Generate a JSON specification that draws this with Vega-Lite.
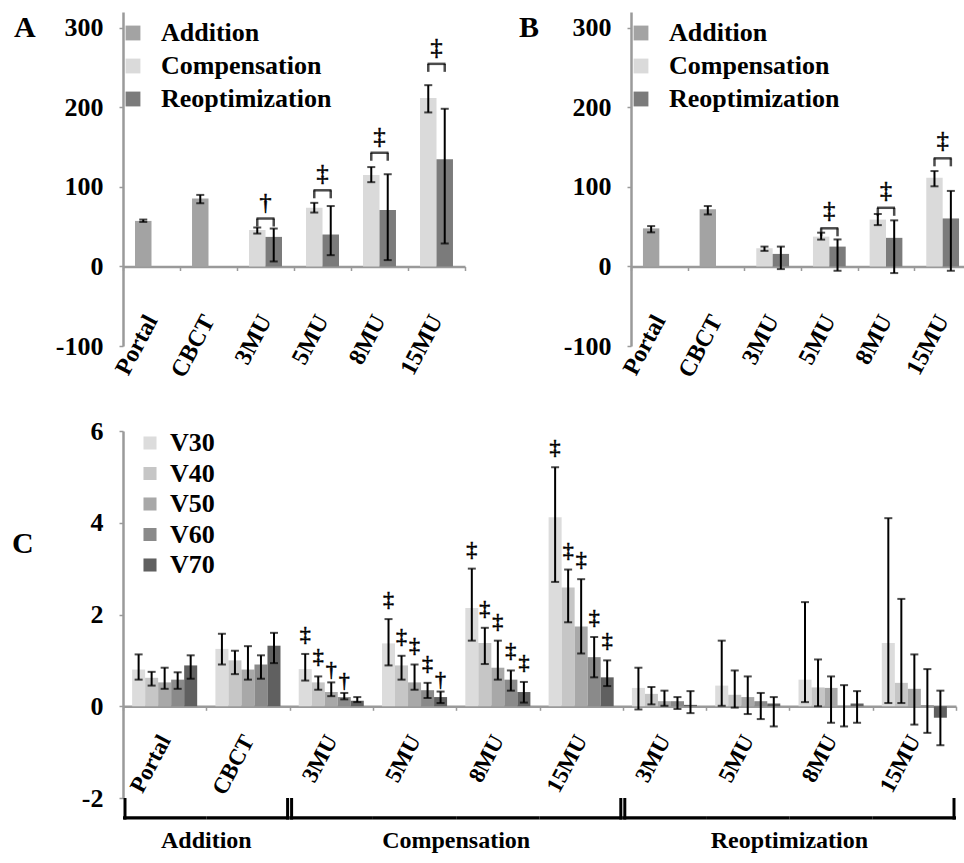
{
"$schema": "https://vega.github.io/schema/vega-lite/v6.json",
"padding": {"left": 12, "top": 12, "right": 0, "bottom": 0},
"spacing": 36,
"resolve": {"scale": {"color": "independent", "x": "independent", "y": "independent", "xOffset": "independent"}, "legend": {"color": "independent"}},
"config": {
  "font": "Liberation Serif",
  "view": {"stroke": null},
  "axis": {"grid": false, "labelColor": "black", "titleColor": "black", "domainColor": "#9a9a9a", "domainWidth": 2.5, "tickColor": "#9a9a9a", "tickWidth": 1.5},
  "legend": {"title": null, "orient": "none", "symbolType": "square", "symbolStrokeWidth": 0, "labelFontWeight": "bold", "labelFontSize": 26, "labelLimit": 400, "padding": 0},
  "title": {"fontWeight": "bold", "fontSize": 30, "anchor": "start", "frame": "group", "baseline": "bottom"}
},
"datasets": {
  "dose": [
    {"cat": "Portal", "method": "Addition", "v": 57.3, "lo": 56, "hi": 59},
    {"cat": "CBCT", "method": "Addition", "v": 85.4, "lo": 79.5, "hi": 90},
    {"cat": "3MU", "method": "Compensation", "v": 46, "lo": 41.4, "hi": 49},
    {"cat": "3MU", "method": "Reoptimization", "v": 37.2, "lo": 6.3, "hi": 47.7},
    {"cat": "5MU", "method": "Compensation", "v": 74, "lo": 67.8, "hi": 80},
    {"cat": "5MU", "method": "Reoptimization", "v": 40.2, "lo": 14.2, "hi": 76},
    {"cat": "8MU", "method": "Compensation", "v": 115, "lo": 106, "hi": 125},
    {"cat": "8MU", "method": "Reoptimization", "v": 71, "lo": 8, "hi": 116},
    {"cat": "15MU", "method": "Compensation", "v": 211.7, "lo": 193.7, "hi": 228},
    {"cat": "15MU", "method": "Reoptimization", "v": 134.7, "lo": 28.9, "hi": 198.3}
  ],
  "doseSig": [
    {"cat": "3MU", "b": 60.3, "sym": "†"},
    {"cat": "5MU", "b": 95.8, "sym": "‡"},
    {"cat": "8MU", "b": 143, "sym": "‡"},
    {"cat": "15MU", "b": 254.8, "sym": "‡"}
  ],
  "eud": [
    {"cat": "Portal", "method": "Addition", "v": 47.9, "lo": 42.9, "hi": 50.8},
    {"cat": "CBCT", "method": "Addition", "v": 72, "lo": 65.4, "hi": 76},
    {"cat": "3MU", "method": "Compensation", "v": 23, "lo": 19.6, "hi": 25},
    {"cat": "3MU", "method": "Reoptimization", "v": 15.8, "lo": -3.3, "hi": 25},
    {"cat": "5MU", "method": "Compensation", "v": 37.5, "lo": 33.8, "hi": 42.5},
    {"cat": "5MU", "method": "Reoptimization", "v": 25, "lo": -5.4, "hi": 34},
    {"cat": "8MU", "method": "Compensation", "v": 59, "lo": 52, "hi": 66},
    {"cat": "8MU", "method": "Reoptimization", "v": 36, "lo": -8.3, "hi": 58},
    {"cat": "15MU", "method": "Compensation", "v": 111.7, "lo": 100.8, "hi": 120},
    {"cat": "15MU", "method": "Reoptimization", "v": 60.4, "lo": -5.4, "hi": 95}
  ],
  "eudSig": [
    {"cat": "5MU", "b": 48, "sym": "‡"},
    {"cat": "8MU", "b": 73.8, "sym": "‡"},
    {"cat": "15MU", "b": 136, "sym": "‡"}
  ],
  "vx": [
    {"key": "A:Portal", "s": "V30", "v": 0.80, "lo": 0.58, "hi": 1.13},
    {"key": "A:Portal", "s": "V40", "v": 0.62, "lo": 0.45, "hi": 0.75},
    {"key": "A:Portal", "s": "V50", "v": 0.52, "lo": 0.38, "hi": 0.84},
    {"key": "A:Portal", "s": "V60", "v": 0.58, "lo": 0.38, "hi": 0.74},
    {"key": "A:Portal", "s": "V70", "v": 0.89, "lo": 0.60, "hi": 1.11},
    {"key": "A:CBCT", "s": "V30", "v": 1.25, "lo": 0.91, "hi": 1.58},
    {"key": "A:CBCT", "s": "V40", "v": 1.00, "lo": 0.70, "hi": 1.21},
    {"key": "A:CBCT", "s": "V50", "v": 0.80, "lo": 0.58, "hi": 1.31},
    {"key": "A:CBCT", "s": "V60", "v": 0.91, "lo": 0.60, "hi": 1.11},
    {"key": "A:CBCT", "s": "V70", "v": 1.32, "lo": 0.94, "hi": 1.60},
    {"key": "C:3MU", "s": "V30", "v": 0.81, "lo": 0.56, "hi": 1.14, "sym": "‡"},
    {"key": "C:3MU", "s": "V40", "v": 0.52, "lo": 0.36, "hi": 0.65, "sym": "‡"},
    {"key": "C:3MU", "s": "V50", "v": 0.31, "lo": 0.22, "hi": 0.52, "sym": "†"},
    {"key": "C:3MU", "s": "V60", "v": 0.20, "lo": 0.15, "hi": 0.29, "sym": "†"},
    {"key": "C:3MU", "s": "V70", "v": 0.12, "lo": 0.09, "hi": 0.20},
    {"key": "C:5MU", "s": "V30", "v": 1.37, "lo": 0.89, "hi": 1.90, "sym": "‡"},
    {"key": "C:5MU", "s": "V40", "v": 0.89, "lo": 0.58, "hi": 1.10, "sym": "‡"},
    {"key": "C:5MU", "s": "V50", "v": 0.52, "lo": 0.36, "hi": 0.91, "sym": "‡"},
    {"key": "C:5MU", "s": "V60", "v": 0.35, "lo": 0.18, "hi": 0.51, "sym": "‡"},
    {"key": "C:5MU", "s": "V70", "v": 0.20, "lo": 0.07, "hi": 0.32, "sym": "†"},
    {"key": "C:8MU", "s": "V30", "v": 2.14, "lo": 1.43, "hi": 3.00, "sym": "‡"},
    {"key": "C:8MU", "s": "V40", "v": 1.38, "lo": 0.92, "hi": 1.71, "sym": "‡"},
    {"key": "C:8MU", "s": "V50", "v": 0.84, "lo": 0.58, "hi": 1.43, "sym": "‡"},
    {"key": "C:8MU", "s": "V60", "v": 0.58, "lo": 0.34, "hi": 0.78, "sym": "‡"},
    {"key": "C:8MU", "s": "V70", "v": 0.31, "lo": 0.08, "hi": 0.53, "sym": "‡"},
    {"key": "C:15MU", "s": "V30", "v": 4.12, "lo": 2.71, "hi": 5.21, "sym": "‡"},
    {"key": "C:15MU", "s": "V40", "v": 2.59, "lo": 1.83, "hi": 2.98, "sym": "‡"},
    {"key": "C:15MU", "s": "V50", "v": 1.74, "lo": 1.15, "hi": 2.77, "sym": "‡"},
    {"key": "C:15MU", "s": "V60", "v": 1.07, "lo": 0.63, "hi": 1.51, "sym": "‡"},
    {"key": "C:15MU", "s": "V70", "v": 0.63, "lo": 0.44, "hi": 1.00, "sym": "‡"},
    {"key": "R:3MU", "s": "V30", "v": 0.40, "lo": -0.07, "hi": 0.84},
    {"key": "R:3MU", "s": "V40", "v": 0.27, "lo": 0.04, "hi": 0.42},
    {"key": "R:3MU", "s": "V50", "v": 0.11, "lo": 0.01, "hi": 0.34},
    {"key": "R:3MU", "s": "V60", "v": 0.11, "lo": -0.06, "hi": 0.20},
    {"key": "R:3MU", "s": "V70", "v": 0.03, "lo": -0.15, "hi": 0.33},
    {"key": "R:5MU", "s": "V30", "v": 0.45, "lo": 0.01, "hi": 1.43},
    {"key": "R:5MU", "s": "V40", "v": 0.25, "lo": -0.03, "hi": 0.78},
    {"key": "R:5MU", "s": "V50", "v": 0.20, "lo": -0.17, "hi": 0.65},
    {"key": "R:5MU", "s": "V60", "v": 0.11, "lo": -0.28, "hi": 0.29},
    {"key": "R:5MU", "s": "V70", "v": 0.06, "lo": -0.44, "hi": 0.20},
    {"key": "R:8MU", "s": "V30", "v": 0.58, "lo": 0.09, "hi": 2.27},
    {"key": "R:8MU", "s": "V40", "v": 0.41, "lo": 0.00, "hi": 1.02},
    {"key": "R:8MU", "s": "V50", "v": 0.40, "lo": -0.36, "hi": 0.65},
    {"key": "R:8MU", "s": "V60", "v": 0.01, "lo": -0.44, "hi": 0.46},
    {"key": "R:8MU", "s": "V70", "v": 0.06, "lo": -0.36, "hi": 0.33},
    {"key": "R:15MU", "s": "V30", "v": 1.38, "lo": 0.07, "hi": 4.10},
    {"key": "R:15MU", "s": "V40", "v": 0.51, "lo": 0.07, "hi": 2.34},
    {"key": "R:15MU", "s": "V50", "v": 0.38, "lo": -0.40, "hi": 1.13},
    {"key": "R:15MU", "s": "V60", "v": 0.02, "lo": -0.58, "hi": 0.81},
    {"key": "R:15MU", "s": "V70", "v": -0.25, "lo": -0.85, "hi": 0.34}
  ],
  "groups": [
    {"group": "Addition", "first": "A:Portal", "mid": "A:CBCT", "last": "A:CBCT"},
    {"group": "Compensation", "first": "C:3MU", "mid": "C:8MU", "last": "C:15MU"},
    {"group": "Reoptimization", "first": "R:3MU", "mid": "R:8MU", "last": "R:15MU"}
  ]
},
"vconcat": [
  {
    "resolve": {"scale": {"color": "independent", "x": "independent", "y": "independent", "xOffset": "independent"}, "legend": {"color": "independent"}},
    "hconcat": [
      {
        "width": 342, "height": 334,
        "title": {"text": "A", "dx": -109, "offset": -31},
        "layer": [
          {
            "data": {"name": "dose"},
            "transform": [{"calculate": "datum.method === 'Reoptimization' ? 'R' : 'L'", "as": "slot"}],
            "mark": {"type": "bar"},
            "encoding": {
              "x": {"field": "cat", "type": "nominal", "scale": {"domain": ["Portal", "CBCT", "3MU", "5MU", "8MU", "15MU"], "paddingInner": 0, "paddingOuter": 0},
                    "axis": {"title": null, "offset": -79.5, "tickBand": "extent", "tickSize": 4, "labelAngle": -62, "labelAlign": "right", "labelBaseline": "middle", "labelPadding": 46, "labelFontSize": 24, "labelFontWeight": "bold"}},
              "xOffset": {"field": "slot", "type": "nominal", "scale": {"domain": ["L", "R"], "paddingInner": 0, "paddingOuter": 0.73}},
              "y": {"field": "v", "type": "quantitative", "scale": {"domain": [-100, 320], "nice": false, "zero": false},
                    "axis": {"title": "Mean dose [cGy]", "values": [-100, 0, 100, 200, 300], "labelExpr": "replace(datum.label, '−', '-')", "tickSize": 4, "labelPadding": 16, "labelFontSize": 26, "labelFontWeight": "bold", "titleFontSize": 27, "titleFontWeight": "bold", "titlePadding": 14}},
              "color": {"field": "method", "type": "nominal", "scale": {"domain": ["Addition", "Compensation", "Reoptimization"], "range": ["#a3a3a3", "#dadada", "#7b7b7b"]},
                        "legend": {"legendX": -3, "legendY": 8, "symbolSize": 220, "rowPadding": 7, "labelOffset": 15}}
            }
          },
          {
            "data": {"name": "dose"},
            "transform": [{"calculate": "datum.method === 'Reoptimization' ? 'R' : 'L'", "as": "slot"}],
            "mark": {"type": "rule", "color": "black", "strokeWidth": 2},
            "encoding": {
              "x": {"field": "cat", "type": "nominal", "axis": {"title": null}},
              "xOffset": {"field": "slot", "type": "nominal"},
              "y": {"field": "lo", "type": "quantitative", "axis": {"title": null}},
              "y2": {"field": "hi"}
            }
          },
          {
            "data": {"name": "dose"},
            "transform": [{"calculate": "datum.method === 'Reoptimization' ? 'R' : 'L'", "as": "slot"}],
            "mark": {"type": "tick", "orient": "horizontal", "color": "black", "thickness": 2, "size": 8},
            "encoding": {
              "x": {"field": "cat", "type": "nominal", "axis": {"title": null}},
              "xOffset": {"field": "slot", "type": "nominal"},
              "y": {"field": "lo", "type": "quantitative", "axis": {"title": null}}
            }
          },
          {
            "data": {"name": "dose"},
            "transform": [{"calculate": "datum.method === 'Reoptimization' ? 'R' : 'L'", "as": "slot"}],
            "mark": {"type": "tick", "orient": "horizontal", "color": "black", "thickness": 2, "size": 8},
            "encoding": {
              "x": {"field": "cat", "type": "nominal", "axis": {"title": null}},
              "xOffset": {"field": "slot", "type": "nominal"},
              "y": {"field": "hi", "type": "quantitative", "axis": {"title": null}}
            }
          },
          {
            "data": {"name": "doseSig"},
            "mark": {"type": "tick", "orient": "horizontal", "color": "black", "thickness": 2.5, "size": 18},
            "encoding": {
              "x": {"field": "cat", "type": "nominal", "axis": {"title": null}},
              "y": {"field": "b", "type": "quantitative", "axis": {"title": null}}
            }
          },
          {
            "data": {"name": "doseSig"},
            "mark": {"type": "tick", "orient": "vertical", "color": "black", "thickness": 2.5, "size": 8, "yOffset": 4},
            "encoding": {
              "x": {"field": "cat", "type": "nominal", "axis": {"title": null}},
              "xOffset": {"datum": "L"},
              "y": {"field": "b", "type": "quantitative", "axis": {"title": null}}
            }
          },
          {
            "data": {"name": "doseSig"},
            "mark": {"type": "tick", "orient": "vertical", "color": "black", "thickness": 2.5, "size": 8, "yOffset": 4},
            "encoding": {
              "x": {"field": "cat", "type": "nominal", "axis": {"title": null}},
              "xOffset": {"datum": "R"},
              "y": {"field": "b", "type": "quantitative", "axis": {"title": null}}
            }
          },
          {
            "data": {"name": "doseSig"},
            "mark": {"type": "text", "dy": -16, "fontSize": 24, "baseline": "middle", "color": "black", "stroke": "black", "strokeWidth": 0.6},
            "encoding": {
              "x": {"field": "cat", "type": "nominal", "axis": {"title": null}},
              "y": {"field": "b", "type": "quantitative", "axis": {"title": null}},
              "text": {"field": "sym"}
            }
          }
        ]
      },
      {
        "width": 340, "height": 334,
        "title": {"text": "B", "dx": -112, "offset": -31},
        "layer": [
          {
            "data": {"name": "eud"},
            "transform": [{"calculate": "datum.method === 'Reoptimization' ? 'R' : 'L'", "as": "slot"}],
            "mark": {"type": "bar"},
            "encoding": {
              "x": {"field": "cat", "type": "nominal", "scale": {"domain": ["Portal", "CBCT", "3MU", "5MU", "8MU", "15MU"], "paddingInner": 0, "paddingOuter": 0},
                    "axis": {"title": null, "offset": -79.5, "tickBand": "extent", "tickSize": 4, "labelAngle": -62, "labelAlign": "right", "labelBaseline": "middle", "labelPadding": 46, "labelFontSize": 24, "labelFontWeight": "bold"}},
              "xOffset": {"field": "slot", "type": "nominal", "scale": {"domain": ["L", "R"], "paddingInner": 0, "paddingOuter": 0.73}},
              "y": {"field": "v", "type": "quantitative", "scale": {"domain": [-100, 320], "nice": false, "zero": false},
                    "axis": {"title": "gEUD [cGy]", "values": [-100, 0, 100, 200, 300], "labelExpr": "replace(datum.label, '−', '-')", "tickSize": 4, "labelPadding": 16, "labelFontSize": 26, "labelFontWeight": "bold", "titleFontSize": 27, "titleFontWeight": "bold", "titlePadding": 12}},
              "color": {"field": "method", "type": "nominal", "scale": {"domain": ["Addition", "Compensation", "Reoptimization"], "range": ["#a3a3a3", "#dadada", "#7b7b7b"]},
                        "legend": {"legendX": -3, "legendY": 8, "symbolSize": 220, "rowPadding": 7, "labelOffset": 15}}
            }
          },
          {
            "data": {"name": "eud"},
            "transform": [{"calculate": "datum.method === 'Reoptimization' ? 'R' : 'L'", "as": "slot"}],
            "mark": {"type": "rule", "color": "black", "strokeWidth": 2},
            "encoding": {
              "x": {"field": "cat", "type": "nominal", "axis": {"title": null}},
              "xOffset": {"field": "slot", "type": "nominal"},
              "y": {"field": "lo", "type": "quantitative", "axis": {"title": null}},
              "y2": {"field": "hi"}
            }
          },
          {
            "data": {"name": "eud"},
            "transform": [{"calculate": "datum.method === 'Reoptimization' ? 'R' : 'L'", "as": "slot"}],
            "mark": {"type": "tick", "orient": "horizontal", "color": "black", "thickness": 2, "size": 8},
            "encoding": {
              "x": {"field": "cat", "type": "nominal", "axis": {"title": null}},
              "xOffset": {"field": "slot", "type": "nominal"},
              "y": {"field": "lo", "type": "quantitative", "axis": {"title": null}}
            }
          },
          {
            "data": {"name": "eud"},
            "transform": [{"calculate": "datum.method === 'Reoptimization' ? 'R' : 'L'", "as": "slot"}],
            "mark": {"type": "tick", "orient": "horizontal", "color": "black", "thickness": 2, "size": 8},
            "encoding": {
              "x": {"field": "cat", "type": "nominal", "axis": {"title": null}},
              "xOffset": {"field": "slot", "type": "nominal"},
              "y": {"field": "hi", "type": "quantitative", "axis": {"title": null}}
            }
          },
          {
            "data": {"name": "eudSig"},
            "mark": {"type": "tick", "orient": "horizontal", "color": "black", "thickness": 2.5, "size": 18},
            "encoding": {
              "x": {"field": "cat", "type": "nominal", "axis": {"title": null}},
              "y": {"field": "b", "type": "quantitative", "axis": {"title": null}}
            }
          },
          {
            "data": {"name": "eudSig"},
            "mark": {"type": "tick", "orient": "vertical", "color": "black", "thickness": 2.5, "size": 8, "yOffset": 4},
            "encoding": {
              "x": {"field": "cat", "type": "nominal", "axis": {"title": null}},
              "xOffset": {"datum": "L"},
              "y": {"field": "b", "type": "quantitative", "axis": {"title": null}}
            }
          },
          {
            "data": {"name": "eudSig"},
            "mark": {"type": "tick", "orient": "vertical", "color": "black", "thickness": 2.5, "size": 8, "yOffset": 4},
            "encoding": {
              "x": {"field": "cat", "type": "nominal", "axis": {"title": null}},
              "xOffset": {"datum": "R"},
              "y": {"field": "b", "type": "quantitative", "axis": {"title": null}}
            }
          },
          {
            "data": {"name": "eudSig"},
            "mark": {"type": "text", "dy": -17, "fontSize": 24, "baseline": "middle", "color": "black", "stroke": "black", "strokeWidth": 0.6},
            "encoding": {
              "x": {"field": "cat", "type": "nominal", "axis": {"title": null}},
              "y": {"field": "b", "type": "quantitative", "axis": {"title": null}},
              "text": {"field": "sym"}
            }
          }
        ]
      }
    ],
    "spacing": 53
  },
  {
    "width": 833, "height": 367,
    "title": {"text": "C", "dx": -111, "offset": -141},
    "layer": [
      {
        "data": {"name": "vx"},
        "mark": {"type": "bar"},
        "encoding": {
          "x": {"field": "key", "type": "nominal",
                "scale": {"domain": ["A:Portal", "A:CBCT", "C:3MU", "C:5MU", "C:8MU", "C:15MU", "R:3MU", "R:5MU", "R:8MU", "R:15MU"], "paddingInner": 0, "paddingOuter": 0},
                "axis": {"title": null, "offset": -91.7, "tickBand": "extent", "tickSize": 4, "labelExpr": "slice(datum.label, 2)", "labelAngle": -62, "labelAlign": "right", "labelBaseline": "middle", "labelPadding": 26, "labelFontSize": 23, "labelFontWeight": "bold"}},
          "xOffset": {"field": "s", "type": "nominal", "scale": {"domain": ["V30", "V40", "V50", "V60", "V70"], "paddingInner": 0, "paddingOuter": 0.7}},
          "y": {"field": "v", "type": "quantitative", "scale": {"domain": [-2, 6], "nice": false, "zero": false},
                "axis": {"title": "Vx alteration [cc]", "values": [-2, 0, 2, 4, 6], "labelExpr": "replace(datum.label, '−', '-')", "tickSize": 4, "labelPadding": 16, "labelFontSize": 26, "labelFontWeight": "bold", "titleFontSize": 28, "titleFontWeight": "normal", "titlePadding": 18}},
          "color": {"field": "s", "type": "nominal", "scale": {"domain": ["V30", "V40", "V50", "V60", "V70"], "range": ["#dcdcdc", "#c6c6c6", "#a8a8a8", "#8a8a8a", "#606060"]},
                    "legend": {"legendX": 14, "legendY": -1, "symbolSize": 170, "rowPadding": 4.5, "labelOffset": 7}}
        }
      },
      {
        "data": {"name": "vx"},
        "mark": {"type": "rule", "color": "black", "strokeWidth": 2},
        "encoding": {
          "x": {"field": "key", "type": "nominal", "axis": {"title": null}},
          "xOffset": {"field": "s", "type": "nominal"},
          "y": {"field": "lo", "type": "quantitative", "axis": {"title": null}},
          "y2": {"field": "hi"}
        }
      },
      {
        "data": {"name": "vx"},
        "mark": {"type": "tick", "orient": "horizontal", "color": "black", "thickness": 2, "size": 8},
        "encoding": {
          "x": {"field": "key", "type": "nominal", "axis": {"title": null}},
          "xOffset": {"field": "s", "type": "nominal"},
          "y": {"field": "lo", "type": "quantitative", "axis": {"title": null}}
        }
      },
      {
        "data": {"name": "vx"},
        "mark": {"type": "tick", "orient": "horizontal", "color": "black", "thickness": 2, "size": 8},
        "encoding": {
          "x": {"field": "key", "type": "nominal", "axis": {"title": null}},
          "xOffset": {"field": "s", "type": "nominal"},
          "y": {"field": "hi", "type": "quantitative", "axis": {"title": null}}
        }
      },
      {
        "data": {"name": "vx"},
        "transform": [{"filter": "datum.sym === '‡'"}],
        "mark": {"type": "text", "dy": -20, "fontSize": 22, "baseline": "middle", "color": "black", "stroke": "black", "strokeWidth": 0.6},
        "encoding": {
          "x": {"field": "key", "type": "nominal", "axis": {"title": null}},
          "xOffset": {"field": "s", "type": "nominal"},
          "y": {"field": "hi", "type": "quantitative", "axis": {"title": null}},
          "text": {"field": "sym"}
        }
      },
      {
        "data": {"name": "vx"},
        "transform": [{"filter": "datum.sym === '†'"}],
        "mark": {"type": "text", "dy": -13, "fontSize": 22, "baseline": "middle", "color": "black", "stroke": "black", "strokeWidth": 0.6},
        "encoding": {
          "x": {"field": "key", "type": "nominal", "axis": {"title": null}},
          "xOffset": {"field": "s", "type": "nominal"},
          "y": {"field": "hi", "type": "quantitative", "axis": {"title": null}},
          "text": {"field": "sym"}
        }
      },
      {
        "data": {"name": "vx"},
        "transform": [{"aggregate": [{"op": "count", "as": "n"}], "groupby": ["key"]}],
        "mark": {"type": "bar", "color": "black", "width": {"band": 1}},
        "encoding": {
          "x": {"field": "key", "type": "nominal", "axis": {"title": null}},
          "y": {"datum": -2.4, "type": "quantitative", "axis": {"title": null}},
          "y2": {"datum": -2.47}
        }
      },
      {
        "data": {"name": "groups"},
        "mark": {"type": "rule", "color": "black", "strokeWidth": 3, "xOffset": 2},
        "encoding": {
          "x": {"field": "first", "type": "nominal", "bandPosition": 0, "axis": {"title": null}},
          "y": {"datum": -2.0, "type": "quantitative", "axis": {"title": null}},
          "y2": {"datum": -2.47}
        }
      },
      {
        "data": {"name": "groups"},
        "mark": {"type": "rule", "color": "black", "strokeWidth": 3, "xOffset": -2},
        "encoding": {
          "x": {"field": "last", "type": "nominal", "bandPosition": 1, "axis": {"title": null}},
          "y": {"datum": -2.0, "type": "quantitative", "axis": {"title": null}},
          "y2": {"datum": -2.47}
        }
      },
      {
        "data": {"name": "groups"},
        "mark": {"type": "text", "fontSize": 24, "fontWeight": "bold", "baseline": "middle", "align": "center", "color": "black"},
        "encoding": {
          "x": {"field": "mid", "type": "nominal", "bandPosition": 0, "axis": {"title": null}},
          "y": {"datum": -2.93, "type": "quantitative", "axis": {"title": null}},
          "text": {"field": "group"}
        }
      }
    ]
  }
]
}
